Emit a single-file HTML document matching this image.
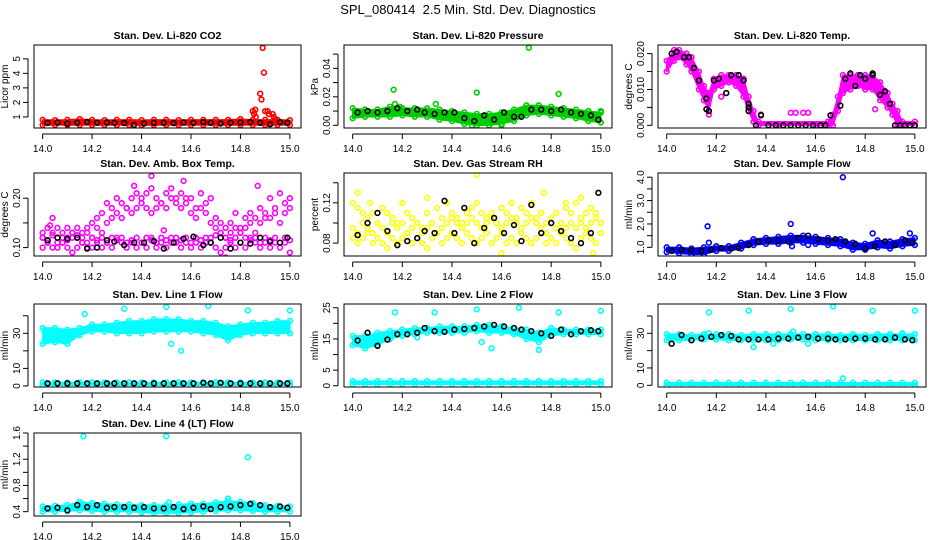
<!DOCTYPE html>
<html><head><meta charset="utf-8"><style>
html,body{margin:0;padding:0;background:#fff;}
svg{display:block;font-family:"Liberation Sans",Arial,sans-serif;}
</style></head><body>
<svg id="chart" width="936" height="540" viewBox="0 0 936 540">
<text x="468" y="14" text-anchor="middle" font-size="13" style="white-space:pre">SPL_080414  2.5 Min. Std. Dev. Diagnostics</text>
</svg>
<script>
// ---- shared grids ----
const bandGrid = [14.0,14.05,14.1,14.15,14.2,14.25,14.3,14.35,14.4,14.45,14.5,14.55,14.6,14.65,14.7,14.75,14.8,14.85,14.9,14.95,15.0];
const blackGrid = [14.02,14.06,14.10,14.14,14.18,14.22,14.26,14.29,14.33,14.37,14.41,14.45,14.49,14.53,14.57,14.61,14.65,14.68,14.72,14.76,14.80,14.84,14.88,14.92,14.96,14.99];
const xTicks = [14.0,14.2,14.4,14.6,14.8,15.0];
const xTickLabels = ["14.0","14.2","14.4","14.6","14.8","15.0"];

// ---- panel 1 CO2 ----
const co2Lo = [0.45,0.45,0.45,0.45,0.45,0.45,0.45,0.45,0.45,0.45,0.45,0.45,0.45,0.45,0.45,0.45,0.45,0.45,0.45,0.45,0.45];
const co2Hi = [0.8,0.78,0.8,0.85,0.8,0.78,0.8,0.8,0.78,0.8,0.8,0.78,0.8,0.8,0.8,0.8,0.85,0.8,0.8,0.8,0.78];
const co2OutX = [14.85,14.86,14.855,14.862,14.88,14.885,14.89,14.895,14.9,14.91,14.915,14.93,14.935,14.94];
const co2OutY = [1.4,1.5,1.2,1.0,2.6,2.2,5.75,4.05,1.4,1.4,1.2,1.2,1.0,0.8];
const co2Black = [0.6,0.62,0.55,0.6,0.65,0.6,0.62,0.6,0.58,0.45,0.55,0.6,0.6,0.58,0.62,0.6,0.65,0.6,0.55,0.6,0.62,0.65,0.6,0.5,0.65,0.6];

// ---- panel 2 pressure ----
const presLo = [0.005,0.006,0.006,0.006,0.007,0.006,0.006,0.004,0.003,0.001,0.0,0.0,0.001,0.003,0.007,0.008,0.007,0.006,0.005,0.003,0.002];
const presHi = [0.012,0.011,0.011,0.013,0.012,0.012,0.012,0.011,0.010,0.009,0.008,0.008,0.009,0.011,0.014,0.014,0.013,0.012,0.011,0.010,0.009];
const presOutX = [14.165,14.17,14.19,14.335,14.5,14.71,14.83,15.0,14.48,14.6];
const presOutY = [0.025,0.015,0.013,0.015,0.023,0.0545,0.022,0.010,0.0,0.0];
const presBlack = [0.009,0.01,0.009,0.01,0.012,0.01,0.011,0.009,0.008,0.009,0.009,0.005,0.003,0.007,0.004,0.009,0.006,0.006,0.011,0.011,0.01,0.011,0.009,0.008,0.007,0.004];

// ---- panel 3 temp ----
const tempBandX = [14.0,14.03,14.05,14.08,14.1,14.13,14.15,14.17,14.19,14.22,14.25,14.28,14.31,14.33,14.35,14.37,14.65,14.67,14.69,14.71,14.74,14.77,14.8,14.83,14.86,14.89,14.91,14.93,14.95,15.0];
const tempLo = [0.015,0.018,0.019,0.017,0.015,0.010,0.007,0.004,0.010,0.011,0.012,0.011,0.008,0.004,0.001,0,0,0,0.004,0.009,0.010,0.011,0.010,0.010,0.007,0.005,0.003,0,0,0];
const tempHi = [0.018,0.021,0.021,0.020,0.019,0.015,0.011,0.009,0.013,0.014,0.014,0.014,0.013,0.008,0.004,0.001,0.001,0.003,0.008,0.014,0.014,0.014,0.014,0.014,0.012,0.009,0.006,0.004,0.001,0.001];
const tempOutX = [14.5,14.52,14.55,14.57,14.84,14.17,14.38,14.22,14.45,14.6];
const tempOutY = [0.0035,0.0035,0.0035,0.0035,0.0045,0.003,0.003,0.008,0.0,0.0];
const tempBlackX = [14.02,14.04,14.07,14.09,14.11,14.13,14.16,14.16,14.17,14.19,14.21,14.24,14.26,14.29,14.31,14.33,14.33,14.33,14.36,14.38,14.41,14.44,14.47,14.5,14.53,14.56,14.59,14.62,14.64,14.66,14.7,14.72,14.74,14.76,14.78,14.8,14.83,14.83,14.86,14.88,14.9,14.92,14.94,14.96,14.98,15.0];
const tempBlackY = [0.020,0.0205,0.019,0.019,0.016,0.0125,0.0075,0.0045,0.004,0.0125,0.013,0.009,0.014,0.014,0.0125,0.006,0.005,0.004,0,0.0028,0,0,0,0,0,0,0,0,0,0.0028,0.0055,0.013,0.0145,0.011,0.014,0.013,0.0145,0.014,0.0085,0.0095,0.006,0,0,0,0,0];

// ---- panel 4 amb box temp ----
const ambHigh = [0.13,0.14,0.16,0.14,0.13,0.14,0.13,0.14,0.13,0.14,0.15,0.16,0.17,0.19,0.18,0.2,0.19,0.18,0.2,0.21,0.2,0.21,0.22,0.2,0.19,0.21,0.22,0.2,0.21,0.19,0.2,0.18,0.21,0.17,0.2,0.16,0.15,0.14,0.15,0.17,0.14,0.16,0.17,0.16,0.18,0.16,0.2,0.17,0.21,0.19,0.2];
const ambMid = [0.12,0.11,0.13,0.12,0.11,0.12,0.13,0.12,0.11,0.13,0.12,0.14,0.13,0.15,0.16,0.17,0.16,0.18,0.17,0.18,0.19,0.18,0.17,0.18,0.19,0.18,0.2,0.19,0.18,0.2,0.17,0.16,0.18,0.19,0.15,0.14,0.13,0.12,0.13,0.14,0.13,0.14,0.15,0.13,0.15,0.17,0.16,0.18,0.15,0.17,0.18];
const ambLow = [0.10,0.11,0.10,0.1,0.11,0.1,0.09,0.1,0.11,0.1,0.1,0.11,0.1,0.11,0.1,0.12,0.11,0.1,0.11,0.1,0.11,0.1,0.12,0.1,0.11,0.1,0.11,0.12,0.1,0.11,0.1,0.11,0.1,0.12,0.11,0.1,0.09,0.1,0.11,0.1,0.11,0.1,0.12,0.11,0.1,0.11,0.1,0.11,0.1,0.11,0.09];
const ambLow2 = [0.12,0.115,0.125,0.11,0.12,0.115,0.12,0.125,0.12,0.11,0.12,0.115,0.12,0.11,0.12,0.115,0.12,0.11,0.115,0.12,0.11,0.12,0.115,0.11,0.12,0.115,0.12,0.11,0.115,0.12,0.11,0.12,0.115,0.11,0.12,0.125,0.13,0.12,0.115,0.12,0.13,0.12,0.115,0.12,0.11,0.12,0.115,0.12,0.11,0.12,0.115];
const ambOutX = [14.44,14.37,14.57,14.87,14.03,14.74,14.49];
const ambOutY = [0.245,0.225,0.235,0.225,0.145,0.08,0.135];
const ambBlack = [0.115,0.12,0.118,0.12,0.098,0.1,0.115,0.112,0.105,0.11,0.11,0.113,0.098,0.11,0.118,0.122,0.105,0.11,0.12,0.098,0.11,0.108,0.12,0.112,0.11,0.12];

// ---- panel 5 RH ----
const rhHigh = [0.12,0.115,0.11,0.105,0.11,0.1,0.115,0.11,0.105,0.1,0.12,0.11,0.105,0.1,0.095,0.11,0.1,0.115,0.105,0.12,0.11,0.105,0.1,0.11,0.115,0.12,0.11,0.105,0.11,0.1,0.115,0.11,0.12,0.105,0.115,0.11,0.12,0.105,0.11,0.1,0.105,0.11,0.1,0.115,0.11,0.12,0.105,0.11,0.115,0.11,0.1];
const rhMid = [0.095,0.09,0.1,0.095,0.09,0.1,0.095,0.09,0.1,0.095,0.1,0.09,0.095,0.1,0.09,0.095,0.1,0.09,0.095,0.1,0.105,0.1,0.095,0.1,0.105,0.1,0.095,0.1,0.105,0.1,0.095,0.1,0.105,0.1,0.095,0.1,0.105,0.1,0.095,0.09,0.1,0.095,0.09,0.095,0.1,0.095,0.1,0.095,0.1,0.105,0.1];
const rhLow = [0.085,0.08,0.085,0.09,0.08,0.085,0.08,0.075,0.085,0.08,0.085,0.09,0.08,0.085,0.08,0.075,0.085,0.09,0.08,0.085,0.09,0.085,0.08,0.09,0.085,0.08,0.085,0.09,0.08,0.085,0.09,0.08,0.085,0.08,0.09,0.085,0.08,0.085,0.09,0.08,0.085,0.08,0.09,0.085,0.08,0.075,0.085,0.09,0.085,0.08,0.09];
const rhOutX = [14.5,14.77,14.02,14.6,14.97,14.3,14.2,14.07,14.86,14.92];
const rhOutY = [0.148,0.13,0.13,0.07,0.07,0.125,0.12,0.12,0.12,0.125];
const rhBlack = [0.088,0.1,0.11,0.092,0.078,0.082,0.085,0.092,0.09,0.122,0.09,0.115,0.08,0.095,0.105,0.09,0.098,0.082,0.118,0.09,0.1,0.092,0.085,0.08,0.09,0.13];

// ---- panel 6 sample flow ----
const sfLo = [0.8,0.75,0.7,0.7,0.85,0.85,0.95,1.1,1.15,1.15,1.2,1.2,1.15,1.1,1.05,0.9,0.9,1.0,0.95,1.05,1.1];
const sfHi = [1.0,1.0,0.95,1.0,1.05,1.05,1.2,1.35,1.4,1.45,1.5,1.5,1.45,1.4,1.35,1.2,1.15,1.3,1.25,1.35,1.4];
const sfOutX = [14.165,14.17,14.5,14.505,14.71,14.83,14.98,14.57];
const sfOutY = [1.9,1.2,2.0,1.05,4.0,1.6,1.6,1.1];
const sfBlack = [0.85,0.9,0.88,0.85,0.9,0.97,0.95,0.98,1.1,1.25,1.3,1.3,1.25,1.4,1.5,1.35,1.3,1.35,1.25,1.15,0.95,1.05,1.25,1.1,1.3,1.2];

// ---- panel 7 line 1 ----
const l1Lo = [24,25,24,29,31,31,30,30,30,31,31,31,31,30,29,26,29,30,30,30,30];
const l1Hi = [33,33,32,33,35,35,36,37,37,38,38,38,37,37,36,34,35,36,36,37,37];
const l1BaseLo = [0.5,0.5,0.5,0.5,0.5,0.5,0.5,0.5,0.5,0.5,0.5,0.5,0.5,0.5,0.5,0.5,0.5,0.5,0.5,0.5,0.5];
const l1BaseHi = [2,2,2,2,2,2,2,2,2,2,2,2,2,2,2,2,2,2,2,2,2];
const l1OutX = [14.17,14.33,14.5,14.67,14.83,15.0,14.52,14.56];
const l1OutY = [41,44,45,45.5,43,43,24,20];
const l1Black = [1.5,1.5,1.5,1.5,1.5,1.5,1.5,1.5,1.5,1.5,1.5,1.5,1.5,1.5,1.5,1.5,1.8,1.5,1.8,1.5,1.5,1.5,1.5,1.5,1.5,1.5];

// ---- panel 8 line 2 ----
const l2Lo = [13,12,13,15,16,16.5,17,17,17,17,17.5,17,17,16.5,15,14,16,16.5,16.5,16.5,16.5];
const l2Hi = [16,16,17,17.5,18,18.5,18.5,19,19,19,19.5,19.5,19,18.5,18,17,18.5,18,18,18,18];
const l2BaseLo = [0.5,0.5,0.5,0.5,0.5,0.5,0.5,0.5,0.5,0.5,0.5,0.5,0.5,0.5,0.5,0.5,0.5,0.5,0.5,0.5,0.5];
const l2BaseHi = [1.5,1.5,1.5,1.5,1.5,1.5,1.5,1.5,1.5,1.5,1.5,1.5,1.5,1.5,1.5,1.5,1.5,1.5,1.5,1.5,1.5];
const l2OutX = [14.17,14.33,14.5,14.67,14.83,15.0,14.52,14.56,14.75,14.26];
const l2OutY = [23.5,23.5,24.5,25,23.5,24,14,12,11.5,15.5];
const l2Black = [14.5,17,12.8,14.8,16.5,16.5,17,18.5,17.5,17.3,18,18.2,18.5,19,19.5,19,18.5,18,17.5,16.8,16,18,16.5,17.5,17.8,17.5];

// ---- panel 9 line 3 ----
const l3Lo = [26,26,26,26.5,26.5,26,26,26,26,26,26.5,26.5,26,26,26,26,26,26,26,26,26];
const l3Hi = [29.5,29.5,29,29.5,29.5,29.5,29,29.5,29.5,29.5,29.5,29.5,29.5,29.5,29,29.5,29,29.5,29.5,29.5,29.5];
const l3BaseLo = [0,0,0,0,0,0,0,0,0,0,0,0,0,0,0,0,0,0,0,0,0];
const l3BaseHi = [1.5,1.5,1.5,1.5,1.5,1.5,1.5,1.5,1.5,1.5,1.5,1.5,1.5,1.5,1.5,1.5,1.5,1.5,1.5,1.5,1.5];
const l3OutX = [14.17,14.33,14.5,14.67,14.83,15.0,14.35,14.57,14.43,14.71,14.51,14.95,14.17];
const l3OutY = [42,43,44,45.5,43,43,22,24,24,4,31,30,30];
const l3Black = [24,29,26,27,28,29,28.5,26.5,26.5,26.5,26.5,27,27,27.5,28,27,27,26.5,26.5,27,27,26.5,26.5,27.5,26.5,26];

// ---- panel 10 line 4 ----
const l4Lo = [0.4,0.4,0.41,0.42,0.41,0.4,0.4,0.4,0.39,0.38,0.38,0.38,0.39,0.4,0.41,0.42,0.42,0.41,0.4,0.4,0.4];
const l4Hi = [0.48,0.49,0.5,0.55,0.53,0.52,0.51,0.51,0.5,0.5,0.5,0.51,0.52,0.52,0.54,0.56,0.55,0.53,0.5,0.49,0.48];
const l4OutX = [14.165,14.5,14.83,14.51,14.75];
const l4OutY = [1.55,1.55,1.23,0.54,0.6];
const l4Black = [0.45,0.46,0.42,0.5,0.47,0.5,0.46,0.47,0.47,0.46,0.47,0.45,0.45,0.47,0.44,0.46,0.48,0.44,0.47,0.48,0.5,0.52,0.5,0.47,0.48,0.46];

const cloudGrid = [];
for (let i = 0; i <= 50; i++) cloudGrid.push(14 + i * 0.02);

const NS = "http://www.w3.org/2000/svg";
const svg = document.getElementById("chart");
const colL = [34, 344, 658], colR = [301, 612, 926];
const rowT = [45, 173, 304, 433], boxH = 83;
const XMIN = 13.965, XMAX = 15.045;

function mk(tag, attrs, parent) {
  const e = document.createElementNS(NS, tag);
  for (const k in attrs) e.setAttribute(k, attrs[k]);
  (parent || svg).appendChild(e);
  return e;
}

function panel(cfg) {
  const L = colL[cfg.col], R = colR[cfg.col], T = rowT[cfg.row], B = T + boxH;
  const g = mk("g", {});
  
  
  const sx = v => L + (v - XMIN) / (XMAX - XMIN) * (R - L);
  const sy = v => B - (v - cfg.ymin) / (cfg.ymax - cfg.ymin) * boxH;
  const t = mk("text", {x: (L + R) / 2, y: T - 6, "text-anchor": "middle", "font-size": "10.5", "font-weight": "bold"}, g);
  t.textContent = cfg.title;
  
  
  const clip = "clip" + cfg.col + cfg.row;
  const cp = mk("clipPath", {id: clip}, g);
  mk("rect", {x: L, y: T, width: R - L, height: boxH}, cp);
  const marks = mk("g", {"clip-path": "url(#" + clip + ")"}, g);
  
  
  const circ = (x, y, col, nm) => {
    const c = mk("circle", {cx: sx(x), cy: sy(y), r: 2.4, fill: "none", stroke: col, "stroke-width": 1.6}, marks);
    
    
  };
  (cfg.bands || []).forEach(b => {
    let d = "";
    b.x.forEach((x, i) => { d += (i ? "L" : "M") + sx(x) + "," + sy(b.hi[i]); });
    for (let i = b.x.length - 1; i >= 0; i--) d += "L" + sx(b.x[i]) + "," + sy(b.lo[i]);
    const p = mk("path", {d: d + "Z", fill: b.color, stroke: b.color, "stroke-width": 1.5, "stroke-linejoin": "round"}, marks);
    
    
    b.x.forEach((x, i) => { circ(x, b.hi[i], b.color, 'band-point'); circ(x, b.lo[i], b.color, 'band-point'); });
  });
  (cfg.clouds || []).forEach(c => {
    c.y.forEach((y, i) => circ(c.x[i], y, c.color, 'cloud-point'));
  });
  (cfg.black || []).forEach(c => {
    c.y.forEach((y, i) => circ(c.x[i], y, "#000", 'black-point'));
  });
  const box = mk("rect", {x: L, y: T, width: R - L, height: boxH, fill: "none", stroke: "#000", "stroke-width": 1}, g);
  
  
  mk("line", {x1: sx(14), x2: sx(15), y1: B + 6, y2: B + 6, stroke: "#000"}, g);
  xTicks.forEach((v, i) => {
    mk("line", {x1: sx(v), x2: sx(v), y1: B + 6, y2: B + 11, stroke: "#000"}, g);
    const tl = mk("text", {x: sx(v), y: B + 24, "text-anchor": "middle", "font-size": "10"}, g);
    tl.textContent = xTickLabels[i];
    
    
  });
  const ax = L - 6;
  mk("line", {x1: ax, x2: ax, y1: sy(cfg.yticks[0]), y2: sy(cfg.yticks[cfg.yticks.length - 1]), stroke: "#000"}, g);
  cfg.yticks.forEach((v, i) => {
    mk("line", {x1: ax - 5, x2: ax, y1: sy(v), y2: sy(v), stroke: "#000"}, g);
    const lab = cfg.ylabels[i];
    if (lab) {
      const yl = mk("text", {x: 0, y: 0, "text-anchor": "middle", "font-size": "10", transform: "translate(" + (L - 14) + "," + sy(v) + ") rotate(-90)"}, g);
      yl.textContent = lab;
      
      
    }
  });
  const yt = mk("text", {x: 0, y: 0, "text-anchor": "middle", "font-size": "10", transform: "translate(" + (L - 26) + "," + (T + boxH / 2) + ") rotate(-90)"}, g);
  yt.textContent = cfg.ylab;
  
  
}

const RED = "#ff0000", GRN = "#00cc00", MAG = "#ff00ff", YEL = "#ffff00", BLU = "#0000ff", CYN = "#00ffff";

panel({name: "co2-panel", col: 0, row: 0, title: "Stan. Dev. Li-820 CO2", ylab: "Licor ppm", ymin: 0.24, ymax: 5.95,
  yticks: [1,2,3,4,5], ylabels: ["1","2","3","4","5"],
  bands: [{x: bandGrid, lo: co2Lo, hi: co2Hi, color: RED}],
  clouds: [{x: co2OutX, y: co2OutY, color: RED}], black: [{x: blackGrid, y: co2Black}]});
panel({name: "pressure-panel", col: 1, row: 0, title: "Stan. Dev. Li-820 Pressure", ylab: "kPa", ymin: -0.0019, ymax: 0.0564,
  yticks: [0,0.01,0.02,0.03,0.04,0.05], ylabels: ["0.00","","0.02","","0.04",""],
  bands: [{x: bandGrid, lo: presLo, hi: presHi, color: GRN}],
  clouds: [{x: presOutX, y: presOutY, color: GRN}], black: [{x: blackGrid, y: presBlack}]});
panel({name: "temp-panel", col: 2, row: 0, title: "Stan. Dev. Li-820 Temp.", ylab: "degrees C", ymin: -0.00074, ymax: 0.0224,
  yticks: [0,0.005,0.01,0.015,0.02], ylabels: ["0.000","","0.010","","0.020"],
  bands: [{x: tempBandX, lo: tempLo, hi: tempHi, color: MAG}],
  clouds: [{x: tempOutX, y: tempOutY, color: MAG}], black: [{x: tempBlackX, y: tempBlackY}]});
panel({name: "amb-temp-panel", col: 0, row: 1, title: "Stan. Dev. Amb. Box Temp.", ylab: "degrees C", ymin: 0.083, ymax: 0.251,
  yticks: [0.1,0.15,0.2], ylabels: ["0.10","","0.20"],
  clouds: [{x: cloudGrid, y: ambHigh, color: MAG}, {x: cloudGrid, y: ambMid, color: MAG}, {x: cloudGrid, y: ambLow, color: MAG}, {x: cloudGrid, y: ambLow2, color: MAG}, {x: ambOutX, y: ambOutY, color: MAG}],
  black: [{x: blackGrid, y: ambBlack}]});
panel({name: "rh-panel", col: 1, row: 1, title: "Stan. Dev. Gas Stream RH", ylab: "percent", ymin: 0.0672, ymax: 0.1497,
  yticks: [0.08,0.1,0.12,0.14], ylabels: ["0.08","","0.12",""],
  clouds: [{x: cloudGrid, y: rhHigh, color: YEL}, {x: cloudGrid, y: rhMid, color: YEL}, {x: cloudGrid, y: rhLow, color: YEL}, {x: rhOutX, y: rhOutY, color: YEL}],
  black: [{x: blackGrid, y: rhBlack}]});
panel({name: "sample-flow-panel", col: 2, row: 1, title: "Stan. Dev. Sample Flow", ylab: "ml/min", ymin: 0.63, ymax: 4.18,
  yticks: [1,1.5,2,2.5,3,3.5,4], ylabels: ["1.0","","2.0","","3.0","","4.0"],
  bands: [{x: bandGrid, lo: sfLo, hi: sfHi, color: BLU}],
  clouds: [{x: sfOutX, y: sfOutY, color: BLU}], black: [{x: blackGrid, y: sfBlack}]});
panel({name: "line1-flow-panel", col: 0, row: 2, title: "Stan. Dev. Line 1 Flow", ylab: "ml/min", ymin: -0.6, ymax: 46.7,
  yticks: [0,10,20,30,40], ylabels: ["0","10","","30",""],
  bands: [{x: bandGrid, lo: l1Lo, hi: l1Hi, color: CYN}, {x: bandGrid, lo: l1BaseLo, hi: l1BaseHi, color: CYN}],
  clouds: [{x: l1OutX, y: l1OutY, color: CYN}], black: [{x: blackGrid, y: l1Black}]});
panel({name: "line2-flow-panel", col: 1, row: 2, title: "Stan. Dev. Line 2 Flow", ylab: "ml/min", ymin: -0.4, ymax: 26.2,
  yticks: [0,5,10,15,20,25], ylabels: ["0","5","","15","","25"],
  bands: [{x: bandGrid, lo: l2Lo, hi: l2Hi, color: CYN}, {x: bandGrid, lo: l2BaseLo, hi: l2BaseHi, color: CYN}],
  clouds: [{x: l2OutX, y: l2OutY, color: CYN}], black: [{x: blackGrid, y: l2Black}]});
panel({name: "line3-flow-panel", col: 2, row: 2, title: "Stan. Dev. Line 3 Flow", ylab: "ml/min", ymin: -0.98, ymax: 46.9,
  yticks: [0,10,20,30,40], ylabels: ["0","10","","30",""],
  bands: [{x: bandGrid, lo: l3Lo, hi: l3Hi, color: CYN}, {x: bandGrid, lo: l3BaseLo, hi: l3BaseHi, color: CYN}],
  clouds: [{x: l3OutX, y: l3OutY, color: CYN}], black: [{x: blackGrid, y: l3Black}]});
panel({name: "line4-flow-panel", col: 0, row: 3, title: "Stan. Dev. Line 4 (LT) Flow", ylab: "ml/min", ymin: 0.334, ymax: 1.6,
  yticks: [0.4,0.6,0.8,1.0,1.2,1.4,1.6], ylabels: ["0.4","","0.8","","1.2","","1.6"],
  bands: [{x: bandGrid, lo: l4Lo, hi: l4Hi, color: CYN}],
  clouds: [{x: l4OutX, y: l4OutY, color: CYN}], black: [{x: blackGrid, y: l4Black}]});
</script>
</body></html>
